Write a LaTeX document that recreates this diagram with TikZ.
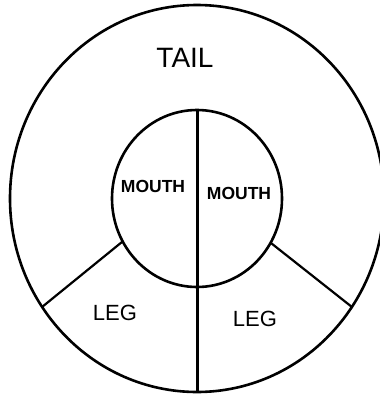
\documentclass[tikz,border=0pt]{standalone}
\usepackage{fontspec}
\setmainfont{Liberation Sans}
\usepackage{tikz}
\usetikzlibrary{shapes.geometric, positioning}

\begin{document}
\begin{tikzpicture}[x=1pt, y=-1pt]
    % 定义样式
    \tikzstyle{ring} = [ellipse, draw, line width=2.6pt, inner sep=0pt, outer sep=0pt]
    \tikzstyle{part} = [font=\fontsize{22}{24}\selectfont]
    \tikzstyle{mouth} = [font=\fontsize{17.5}{20}\selectfont\bfseries]
    \tikzstyle{cut} = [line width=2.2pt]

    \useasboundingbox (0,0) rectangle (380,394);

    % 圆
    \node (outer) [ring, minimum width=374pt, minimum height=387pt] at (197,198.5) {};
    \node (inner) [ring, minimum width=170pt, minimum height=177pt] at (197,198.5) {};

    % 文字
    \node (tail) [font=\fontsize{28}{30}\selectfont] at (185,58) {TAIL};
    \node (mouthl) [mouth] at (153,186) {MOUTH};
    \node (mouthr) [mouth] at (239,193) {MOUTH};
    \node (legl) [part] at (115,313) {LEG};
    \node (legr) [part] at (255,319) {LEG};

    % 分割线
    \draw [line width=3pt] (inner.north) -- (outer.south);
    \draw [cut] (inner.210) -- (outer.215.5);
    \draw [cut] (inner.329) -- (outer.325.7);
\end{tikzpicture}
\end{document}
